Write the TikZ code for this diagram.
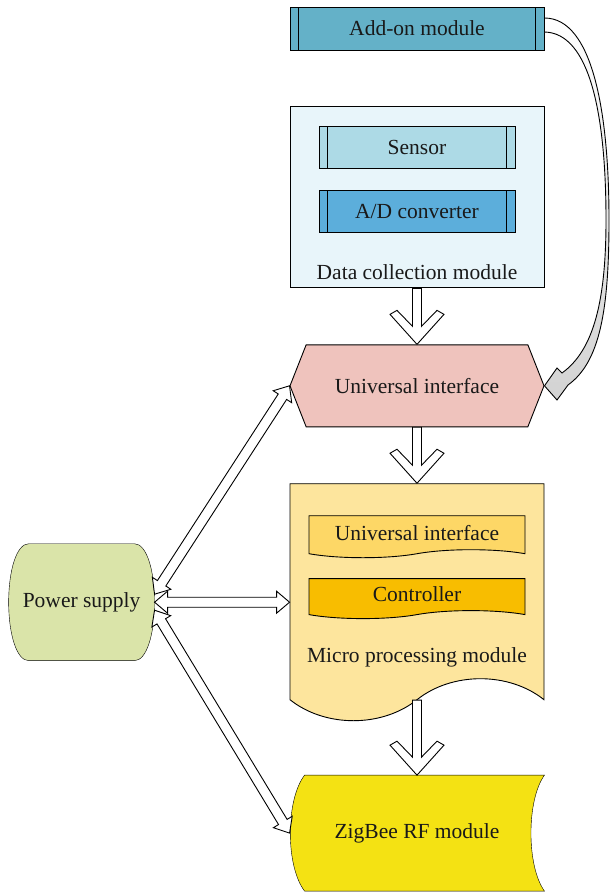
\documentclass[tikz,border=0pt]{standalone}
\usepackage{fontspec}
\setmainfont{Liberation Serif}
\usepackage{xcolor}
\usepackage{tikz}
\usetikzlibrary{shapes.geometric, shapes.symbols, arrows, positioning, calc, backgrounds}

\definecolor{addonblue}{RGB}{100,177,200}
\definecolor{datablue}{RGB}{232,245,250}
\definecolor{sensorblue}{RGB}{173,218,230}
\definecolor{adblue}{RGB}{92,174,219}
\definecolor{ifacepink}{RGB}{239,195,189}
\definecolor{microyellow}{RGB}{253,229,157}
\definecolor{ifaceyellow}{RGB}{253,215,102}
\definecolor{ctrlorange}{RGB}{248,189,0}
\definecolor{zigyellow}{RGB}{244,226,19}
\definecolor{psugreen}{RGB}{218,228,169}

\begin{document}
\begin{tikzpicture}[x=1pt, y=-1pt, node distance=56pt, line width=0.9pt,
    every node/.style={font=\fontsize{21.5}{25}\selectfont, text=black!90},
    module/.style={rectangle, draw, minimum width=254pt},
    lined/.style={path picture={\draw ([xshift=8.5pt]path picture bounding box.north west) -- ([xshift=8.5pt]path picture bounding box.south west)
        ([xshift=-8.5pt]path picture bounding box.north east) -- ([xshift=-8.5pt]path picture bounding box.south east);}},
    part/.style={rectangle, draw, lined, minimum width=196pt, minimum height=42pt},
    iface/.style={signal, signal to=west and east, signal pointer angle=137, draw, minimum width=254pt, minimum height=82pt},
    wave/.style={tape, draw, tape bend top=none, tape bend bottom=in and out},
    flow/.style={draw, fill=white, to path={
        -- ($(\tikztostart)!4.5pt!90:(\tikztotarget)$)
        -- ($(\tikztotarget)!18pt!(\tikztostart)!4.5pt!90:(\tikztotarget)$)
        -- ($(\tikztotarget)!34pt!(\tikztostart)!20pt!90:(\tikztotarget)$)
        -- ($(\tikztotarget)!30pt!(\tikztostart)!27pt!90:(\tikztotarget)$)
        -- (\tikztotarget)
        -- ($(\tikztotarget)!30pt!(\tikztostart)!27pt!-90:(\tikztotarget)$)
        -- ($(\tikztotarget)!34pt!(\tikztostart)!20pt!-90:(\tikztotarget)$)
        -- ($(\tikztotarget)!18pt!(\tikztostart)!4.5pt!-90:(\tikztotarget)$)
        -- ($(\tikztostart)!4.5pt!-90:(\tikztotarget)$)
        -- cycle}},
    supply/.style={draw, fill=white, to path={
        -- ($(\tikztostart)!13pt!(\tikztotarget)!11pt!90:(\tikztotarget)$)
        -- ($(\tikztostart)!13pt!(\tikztotarget)!5pt!90:(\tikztotarget)$)
        -- ($(\tikztotarget)!13pt!(\tikztostart)!5pt!90:(\tikztotarget)$)
        -- ($(\tikztotarget)!13pt!(\tikztostart)!11pt!90:(\tikztotarget)$)
        -- (\tikztotarget)
        -- ($(\tikztotarget)!13pt!(\tikztostart)!11pt!-90:(\tikztotarget)$)
        -- ($(\tikztotarget)!13pt!(\tikztostart)!5pt!-90:(\tikztotarget)$)
        -- ($(\tikztostart)!13pt!(\tikztotarget)!5pt!-90:(\tikztotarget)$)
        -- ($(\tikztostart)!13pt!(\tikztotarget)!11pt!-90:(\tikztotarget)$)
        -- cycle}}]

    \useasboundingbox (0,0) rectangle (610,894);

    % main column
    \node [module, lined, fill=addonblue, minimum height=43pt] at (417,28.5) (addon) {Add-on module};
    \node [module, fill=datablue, minimum height=181pt, below=of addon] (data) {};
    \node [part, fill=sensorblue, below=20pt of data.north] (sensor) {Sensor};
    \node [part, fill=adblue, below=21pt of sensor] (adc) {A/D converter};
    \node [above=5pt of data.south] (datacap) {Data collection module};
    \node [iface, fill=ifacepink, below=of data] (ui) {Universal interface};
    \node [wave, fill=microyellow, minimum width=254pt, minimum height=237pt, tape bend height=42pt, below=of ui] (micro) {};
    \node [wave, fill=ifaceyellow, minimum width=216pt, minimum height=42pt, tape bend height=8pt, below=32pt of micro.north] (mui) {Universal interface};
    \node [wave, fill=ctrlorange, minimum width=216pt, minimum height=40pt, tape bend height=8pt, below=28pt of mui] (ctrl) {Controller};
    \node [below=33pt of ctrl] (microcap) {Micro processing module};
    \node [minimum width=254pt, minimum height=115pt, below=96pt of micro] (zigbee) {ZigBee RF module};
    \node [minimum width=145pt, minimum height=116pt, left=135pt of micro, yshift=-21pt] (psu) {Power supply};

    \begin{scope}[on background layer]
        \draw [fill=zigyellow] ([xshift=15pt]zigbee.north west) -- (zigbee.north east)
            .. controls ([xshift=-18pt,yshift=-25pt]zigbee.north east) and ([xshift=-18pt,yshift=25pt]zigbee.south east) .. (zigbee.south east)
            -- ([xshift=15pt]zigbee.south west)
            .. controls ([xshift=-4pt,yshift=25pt]zigbee.south west) and ([xshift=-4pt,yshift=-25pt]zigbee.north west) .. ([xshift=15pt]zigbee.north west)
            -- cycle;
        \draw [fill=psugreen] ([xshift=20pt]psu.north west) -- ([xshift=-20pt]psu.north east)
            .. controls ([xshift=-8pt]psu.north east) and ([yshift=32pt]psu.east) .. (psu.east)
            .. controls ([yshift=-32pt]psu.east) and ([xshift=-8pt]psu.south east) .. ([xshift=-20pt]psu.south east)
            -- ([xshift=20pt]psu.south west)
            .. controls ([xshift=8pt]psu.south west) and ([yshift=-32pt]psu.west) .. (psu.west)
            .. controls ([yshift=32pt]psu.west) and ([xshift=8pt]psu.north west) .. ([xshift=20pt]psu.north west)
            -- cycle;
    \end{scope}

    \coordinate (aoup) at ([yshift=10.5pt]addon.east);
    \coordinate (aodn) at ([yshift=-3.5pt]addon.east);
    \coordinate (mout) at ([yshift=-21pt]micro.south);
    \coordinate (psuup) at ([yshift=8pt]psu.east);
    \coordinate (psudn) at ([yshift=-8pt]psu.east);
    \coordinate (mpin) at (psu.east -| micro.west);

    \path [flow] (data.south) to (ui.north);
    \path [flow] (ui.south) to (micro.north);
    \path [flow] (mout) to (zigbee.north);

    \path [supply] (psuup) to (ui.west);
    \path [supply] (psu.east) to (mpin);
    \path [supply] (psudn) to (zigbee.west);

    % add-on module plugs into the interface
    \draw [top color=white, bottom color=gray!35] (aoup) .. controls (592,18) and (609,110) .. (609,220)
        .. controls (609,310) and (600,362) .. (568,385) -- (557,400) -- (ui.east) -- (557,368) -- (562,373)
        .. controls (594,350) and (606,300) .. (606,220) .. controls (606,115) and (590,33) .. (aodn) -- cycle;
\end{tikzpicture}
\end{document}
